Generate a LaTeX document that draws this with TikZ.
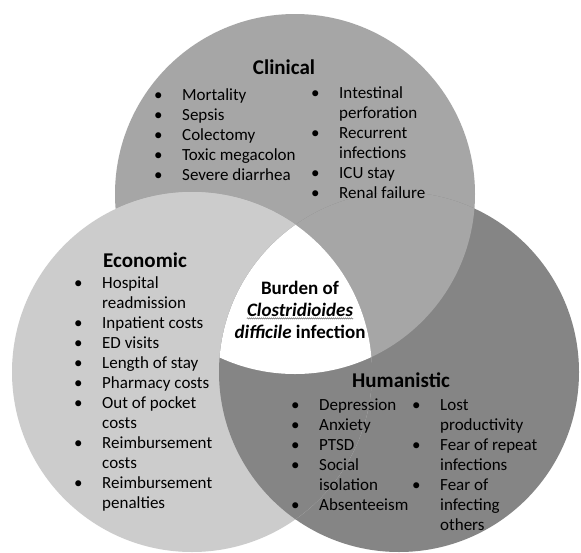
\documentclass[tikz,border=0pt]{standalone}
\usepackage{fontspec}
\setmainfont{Carlito}
\usetikzlibrary{positioning,decorations.pathmorphing}

\definecolor{clingray}{gray}{0.65}
\definecolor{econgray}{gray}{0.80}
\definecolor{humgray}{gray}{0.52}

% bulleted column: bullet, then the text
\newcommand{\bulletlist}[1]{\begin{tabular}[t]{@{}p{28pt}@{}l@{}}#1\end{tabular}}

\begin{document}
\begin{tikzpicture}[x=1pt, y=-1pt,
    heading/.style={font=\fontsize{21}{25}\selectfont\bfseries, inner sep=0pt},
    items/.style={font=\fontsize{17}{20}\selectfont, inner sep=0pt, anchor=base west},
    burden/.style={font=\fontsize{19}{22}\selectfont\bfseries, inner sep=0pt,
        text height=14pt, text depth=8pt}]
    \useasboundingbox (0,0) rectangle (581,552);
    \fill[white] (0,0) rectangle (581,552);
    \def\rad{180pt}
    \coordinate (cli) at (295,194);
    \coordinate (eco) at (192,372);
    \coordinate (hum) at (399,372);

    % three circles
    \fill[clingray] (cli) circle[radius=\rad];
    \fill[humgray] (hum) circle[radius=\rad];
    \fill[econgray] (eco) circle[radius=\rad];
    % each overlap takes the shade of one circle
    \foreach \a/\b/\col in {cli/eco/econgray, hum/cli/clingray, eco/hum/humgray} {
        \begin{scope}
            \clip (\a) circle[radius=\rad];
            \fill[\col] (\b) circle[radius=\rad];
        \end{scope}
    }
    % middle part is left white
    \begin{scope}
        \clip (eco) circle[radius=\rad];
        \clip (cli) circle[radius=\rad];
        \fill[white] (hum) circle[radius=\rad];
    \end{scope}

    % Clinical
    \node[heading] (clinical) at (284,67) {Clinical};
    \node[items] (clileft) at (154,100) {\bulletlist{
        \textbullet & Mortality\\
        \textbullet & Sepsis\\
        \textbullet & Colectomy\\
        \textbullet & Toxic megacolon\\
        \textbullet & Severe diarrhea}};
    \node[items] (cliright) at (311,98) {\bulletlist{
        \textbullet & Intestinal\\
                    & perforation\\
        \textbullet & Recurrent\\
                    & infections\\
        \textbullet & ICU stay\\
        \textbullet & Renal failure}};

    % Economic
    \node[heading] (economic) at (145,260) {Economic};
    \node[items] (ecolist) at (74,288) {\bulletlist{
        \textbullet & Hospital\\
                    & readmission\\
        \textbullet & Inpatient costs\\
        \textbullet & ED visits\\
        \textbullet & Length of stay\\
        \textbullet & Pharmacy costs\\
        \textbullet & Out of pocket\\
                    & costs\\
        \textbullet & Reimbursement\\
                    & costs\\
        \textbullet & Reimbursement\\
                    & penalties}};

    % Humanistic
    \node[heading] (humanistic) at (401,380) {Humanistic};
    \node[items] (humleft) at (291,410) {\bulletlist{
        \textbullet & Depression\\
        \textbullet & Anxiety\\
        \textbullet & PTSD\\
        \textbullet & Social\\
                    & isolation\\
        \textbullet & Absenteeism}};
    \node[items] (humright) at (412,410) {\bulletlist{
        \textbullet & Lost\\
                    & productivity\\
        \textbullet & Fear of repeat\\
                    & infections\\
        \textbullet & Fear of\\
                    & infecting\\
                    & others}};

    % centre label
    \node[burden, anchor=base] (burdenof) at (300,294) {Burden of};
    \node[burden, below=0pt of burdenof] (clos) {\itshape Clostridioides};
    \node[burden, below=0pt of clos] (diff) {\textit{difficile} infection};
    \draw[gray, line width=0.6pt, decorate, decoration={snake, amplitude=0.6pt, segment length=2pt}]
        ([yshift=-2pt]clos.base west) -- ([yshift=-2pt]clos.base east);
\end{tikzpicture}
\end{document}
